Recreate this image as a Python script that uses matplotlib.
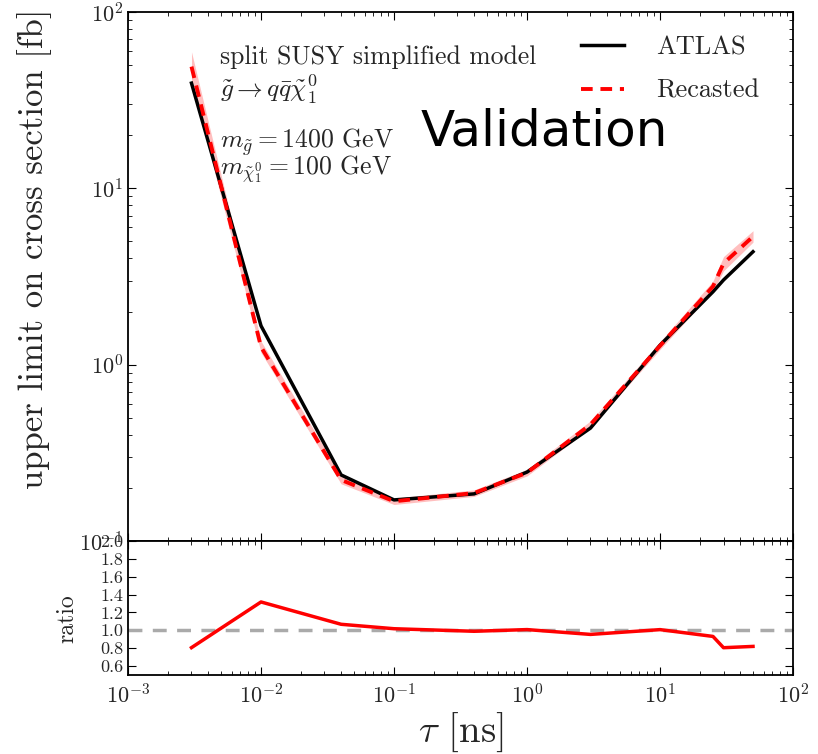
import numpy as np
import matplotlib
matplotlib.use("Agg")
import matplotlib.pyplot as plt
from matplotlib.ticker import FixedLocator, LogLocator, NullFormatter

# lifetime points (ns)
tau = [0.003, 0.01, 0.04, 0.1, 0.4, 1.0, 3.0, 10.0, 25.0, 30.0, 50.0]
# ATLAS upper limit on cross section (fb)
atlas = [39.5, 1.66, 0.237, 0.171, 0.185, 0.246, 0.437, 1.29, 2.59, 3.02, 4.37]
# recasted limit and its band
recast = [49.0, 1.26, 0.222, 0.168, 0.187, 0.244, 0.458, 1.28, 2.78, 3.75, 5.33]
recast_lo = [40.0, 1.17, 0.211, 0.161, 0.179, 0.234, 0.437, 1.22, 2.60, 3.40, 4.95]
recast_hi = [59.5, 1.36, 0.234, 0.175, 0.195, 0.255, 0.480, 1.35, 2.98, 4.10, 5.75]

plt.rcParams['font.family'] = 'serif'
plt.rcParams['font.serif'] = ['cmr10', 'DejaVu Serif']
plt.rcParams['mathtext.fontset'] = 'cm'
plt.rcParams['axes.unicode_minus'] = True
plt.rcParams['axes.formatter.use_mathtext'] = True
plt.rcParams['xtick.direction'] = 'in'
plt.rcParams['ytick.direction'] = 'in'
plt.rcParams['xtick.top'] = True
plt.rcParams['ytick.right'] = True
plt.rcParams['xtick.major.size'] = 6
plt.rcParams['ytick.major.size'] = 6
plt.rcParams['xtick.minor.size'] = 3
plt.rcParams['ytick.minor.size'] = 3
plt.rcParams['axes.linewidth'] = 1.3
txt = '#262626'

fig = plt.figure(figsize=(8.18, 7.54), dpi=100)
ax = fig.add_axes([0.1565, 0.2825, 0.813, 0.7016])
axr = fig.add_axes([0.1565, 0.1048, 0.813, 0.1777], sharex=ax)

ax.fill_between(tau, recast_lo, recast_hi, color='red', alpha=0.25, lw=0)
ax.plot(tau, atlas, color='black', lw=2.5, label='ATLAS')
ax.plot(tau, recast, color='red', lw=2.8, ls=(0, (3, 2)), label='Recasted')
ax.set_xscale('log')
ax.set_yscale('log')
ax.set_xlim(1e-3, 1e2)
ax.set_ylim(0.1, 100)
ax.set_ylabel('upper limit on cross section [fb]', fontsize=25, color=txt)
ax.yaxis.set_label_coords(-0.114, 0.552)
ax.tick_params(labelsize=16, labelcolor=txt)
ax.tick_params(axis='x', labelbottom=False)
ax.yaxis.set_minor_locator(LogLocator(subs=np.arange(2, 10)))
ax.yaxis.set_minor_formatter(NullFormatter())

leg = ax.legend(loc='upper right', frameon=False, fontsize=19,
                handlelength=1.65, handletextpad=1.2, labelspacing=0.75,
                borderaxespad=0.5, bbox_to_anchor=(0.985, 1.0))
for t in leg.get_texts():
    t.set_color(txt)

ax.text(0.139, 0.915, 'split SUSY simplified model', transform=ax.transAxes,
        fontsize=18.5, color=txt, va='center')
ax.text(0.139, 0.853, r'$\tilde{g} \rightarrow q\bar{q}\tilde{\chi}_1^0$',
        transform=ax.transAxes, fontsize=18.5, color=txt, va='center')
ax.text(0.139, 0.754, r'$m_{\tilde{g}} = 1400$ GeV', transform=ax.transAxes,
        fontsize=18.5, color=txt, va='center')
ax.text(0.139, 0.703, r'$m_{\tilde{\chi}_1^0} = 100$ GeV', transform=ax.transAxes,
        fontsize=18.5, color=txt, va='center')
ax.text(0.44, 0.775, 'Validation', transform=ax.transAxes, fontsize=36,
        family='DejaVu Sans', color='black', va='center')

ratio = np.array(atlas) / np.array(recast)
axr.axhline(1.0, color='#aaaaaa', lw=2.5, ls=(0, (4, 3)))
axr.plot(tau, ratio, color='red', lw=2.5)
axr.set_ylim(0.5, 2.0)
axr.yaxis.set_major_locator(FixedLocator(np.arange(0.6, 2.01, 0.2)))
axr.set_yticklabels(['%.1f' % v for v in np.arange(0.6, 2.01, 0.2)])
axr.tick_params(axis='y', labelsize=13, labelcolor=txt)
axr.tick_params(axis='x', labelsize=16, labelcolor=txt, pad=6)
axr.set_ylabel('ratio', fontsize=17, color=txt)
axr.yaxis.set_label_coords(-0.075, 0.42)
axr.set_xlabel(r'$\tau$ [ns]', fontsize=28, color=txt, labelpad=2)

fig.savefig('out.png', dpi=100)
